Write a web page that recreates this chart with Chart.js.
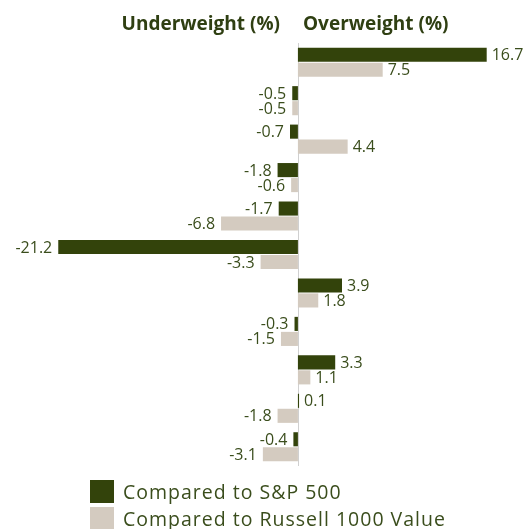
<!DOCTYPE html>
<html><head><meta charset="utf-8">
<script src="https://cdn.jsdelivr.net/npm/chart.js@4"></script>
<style>
html,body{margin:0;padding:0;background:#fff;}
#wrap{position:relative;width:524px;height:529px;overflow:hidden;font-family:"Open Sans",Lato,sans-serif;}
canvas{position:absolute;left:0;top:0;}
.hdr{position:absolute;top:10px;font-weight:bold;font-size:19px;color:#2f3f12;white-space:nowrap;}
#legend{position:absolute;left:90px;top:478px;}
.li{display:flex;align-items:center;height:27px;font-size:19.5px;letter-spacing:1px;color:#3a4d1c;white-space:nowrap;}
.sw{width:24px;height:23px;margin-right:9px;}
</style></head>
<body><div id="wrap">
<canvas id="c" width="524" height="529"></canvas>
<div class="hdr" id="h1" style="right:244px;">Underweight (%)</div>
<div class="hdr" id="h2" style="left:303px;">Overweight (%)</div>
<div id="legend"></div>
</div>
<script>
const categories = ["1","2","3","4","5","6","7","8","9","10","11"];
const seriesNames = ["Compared to S&P 500", "Compared to Russell 1000 Value"];
const sp500 = [16.7, -0.5, -0.7, -1.8, -1.7, -21.2, 3.9, -0.3, 3.3, 0.1, -0.4];
const russell = [7.5, -0.5, 4.4, -0.6, -6.8, -3.3, 1.8, -1.5, 1.1, -1.8, -3.1];
const colors = ["#33430b", "#d4cbc0"];
const textColor = "#3a4d1c";

const leg = document.getElementById('legend');
seriesNames.forEach((n,i)=>{
  const d=document.createElement('div');d.className='li';
  d.innerHTML='<span class="sw" style="background:'+colors[i]+'"></span><span></span>';
  d.lastChild.textContent=n;leg.appendChild(d);
});

const extras = {
  id:'extras',
  beforeDatasetsDraw(chart){
    const {ctx, chartArea, scales} = chart;
    const x0 = Math.round(scales.x.getPixelForValue(0)) + 0.5;
    ctx.save();
    ctx.strokeStyle = '#d0d0d0'; ctx.lineWidth = 1;
    ctx.beginPath(); ctx.moveTo(x0, chartArea.top); ctx.lineTo(x0, chartArea.bottom); ctx.stroke();
    ctx.restore();
  },
  afterDatasetsDraw(chart){
    const {ctx} = chart;
    ctx.save();
    ctx.font = '16px "Open Sans", Lato, sans-serif';
    ctx.fillStyle = textColor;
    ctx.textBaseline = 'middle';
    chart.data.datasets.forEach((ds, di)=>{
      const meta = chart.getDatasetMeta(di);
      meta.data.forEach((bar, i)=>{
        const v = ds.data[i];
        const t = v.toFixed(1);
        if (v >= 0){ ctx.textAlign='left'; ctx.fillText(t, bar.x + 5, bar.y + 1); }
        else { ctx.textAlign='right'; ctx.fillText(t, bar.x - 6, bar.y + 1); }
      });
    });
    ctx.restore();
  }
};

new Chart(document.getElementById('c'), {
  type:'bar',
  data:{ labels: categories, datasets:[
    {label: seriesNames[0], data: sp500, backgroundColor: colors[0], categoryPercentage:0.78, barPercentage:0.94},
    {label: seriesNames[1], data: russell, backgroundColor: colors[1], categoryPercentage:0.78, barPercentage:0.94}
  ]},
  options:{
    indexAxis:'y', responsive:false, animation:false,
    layout:{padding:{left:4, right:0, top:43, bottom:63}},
    plugins:{legend:{display:false}, tooltip:{enabled:false}},
    scales:{
      x:{display:false, min:-26, max:20},
      y:{display:false}
    }
  },
  plugins:[extras]
});
</script>
</body></html>
